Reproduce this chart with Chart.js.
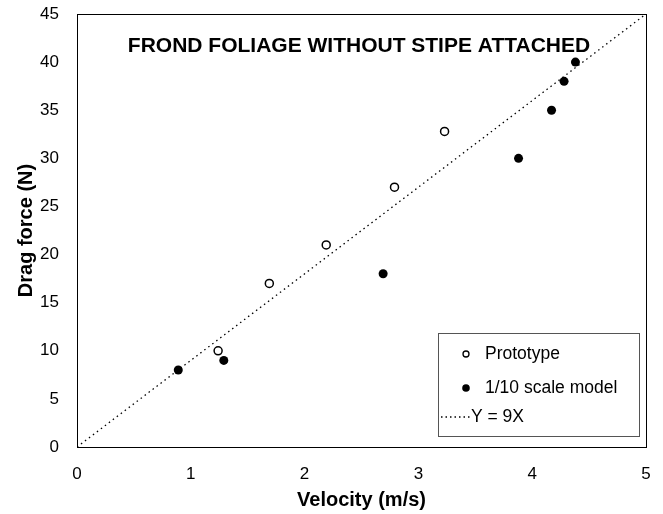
<!DOCTYPE html>
<html><head><meta charset="utf-8">
<script src="https://cdn.jsdelivr.net/npm/chart.js@4/dist/chart.umd.min.js"></script>
<style>html,body{margin:0;padding:0;background:#fff}#wrap{width:663px;height:514px}</style>
</head><body><div id="wrap"><canvas id="c" width="663" height="514"></canvas></div>
<script>
const chartTitle = "FROND FOLIAGE WITHOUT STIPE ATTACHED";
const xTitle = "Velocity (m/s)";
const yTitle = "Drag force (N)";
const prototypeX = [1.24, 1.69, 2.19, 2.79, 3.23];
const prototypeY = [10, 17, 21, 27, 32.8];
const modelX = [0.89, 1.29, 2.69, 3.88, 4.17, 4.28, 4.38];
const modelY = [8, 9, 18, 30, 35, 38, 40];
const lineX = [0, 5];
const lineY = [0, 45];
const seriesLabels = ["Prototype", "1/10 scale model", "Y = 9X"];

const pts = (xs, ys) => xs.map((x, i) => ({x, y: ys[i]}));
const FONT = "'Liberation Sans', Arial, sans-serif";

const insidePlugin = {
  id: 'inside',
  afterDatasetsDraw(chart) {
    const ctx = chart.ctx, a = chart.chartArea;
    ctx.save();
    ctx.strokeStyle = '#000'; ctx.lineWidth = 1;
    ctx.strokeRect(a.left + 0.5, a.top + 0.5, a.right - a.left, a.bottom - a.top);
    ctx.fillStyle = '#000';
    ctx.font = "bold 21px " + FONT;
    ctx.textAlign = 'center'; ctx.textBaseline = 'middle';
    ctx.fillText(chartTitle, 359, 46);
    // legend box
    const L = 438, T = 333, R = 639, B = 436;
    ctx.fillStyle = '#fff';
    ctx.fillRect(L, T, R - L, B - T);
    ctx.strokeStyle = '#555'; ctx.lineWidth = 1;
    ctx.strokeRect(L + 0.5, T + 0.5, R - L, B - T);
    ctx.font = "17.5px " + FONT; ctx.textAlign = 'left'; ctx.fillStyle = '#000';
    const ds = chart.data.datasets;
    ctx.beginPath(); ctx.arc(466, 354, 3, 0, Math.PI * 2);
    ctx.fillStyle = '#fff'; ctx.fill(); ctx.strokeStyle = '#000'; ctx.lineWidth = 1.3; ctx.stroke();
    ctx.fillStyle = '#000';
    ctx.fillText(ds[0].label, 485, 354);
    ctx.beginPath(); ctx.arc(466, 388, 3.8, 0, Math.PI * 2); ctx.fill();
    ctx.fillText(ds[1].label, 485, 388);
    ctx.setLineDash([1.5, 3]); ctx.lineWidth = 1.3;
    ctx.beginPath(); ctx.moveTo(441, 417); ctx.lineTo(471, 417); ctx.stroke();
    ctx.setLineDash([]);
    ctx.fillText(ds[2].label, 471, 417);
    ctx.restore();
  }
};

new Chart(document.getElementById('c'), {
  type: 'scatter',
  data: {
    datasets: [
      {label: seriesLabels[0], data: pts(prototypeX, prototypeY), pointRadius: 4, pointBackgroundColor: '#fff', pointBorderColor: '#000', pointBorderWidth: 1.5, showLine: false, order: 1},
      {label: seriesLabels[1], data: pts(modelX, modelY), pointRadius: 4.5, pointBackgroundColor: '#000', pointBorderColor: '#000', pointBorderWidth: 0, showLine: false, order: 0},
      {label: seriesLabels[2], data: pts(lineX, lineY), showLine: true, pointRadius: 0, borderColor: '#000', borderWidth: 1.3, borderDash: [1.5, 3.5], fill: false, order: 2}
    ]
  },
  options: {
    responsive: false, animation: false,
    layout: {padding: {left: 0, right: 17, top: 14, bottom: 0}},
    plugins: {legend: {display: false}, tooltip: {enabled: false}, title: {display: false}},
    scales: {
      x: {
        type: 'linear', min: 0, max: 5,
        grid: {display: false, drawTicks: true, tickLength: 5, tickColor: '#000'},
        border: {display: true, color: '#000', width: 1},
        ticks: {stepSize: 1, color: '#000', font: {family: FONT, size: 17}, padding: 12},
        title: {display: true, text: xTitle, color: '#000', font: {family: FONT, size: 20, weight: 'bold'}, padding: {top: 0, bottom: 2}},
        afterFit(s) { s.height = 67; s.paddingLeft = 0; s.paddingRight = 0; }
      },
      y: {
        type: 'linear', min: 0, max: 45,
        grid: {display: false, drawTicks: true, tickLength: 5, tickColor: '#000'},
        border: {display: true, color: '#000', width: 1},
        ticks: {stepSize: 5, color: '#000', font: {family: FONT, size: 17}, padding: 13},
        title: {display: true, text: yTitle, color: '#000', font: {family: FONT, size: 20, weight: 'bold'}, padding: {top: 14, bottom: 0}},
        afterFit(s) { s.width = 77; s.paddingTop = 0; s.paddingBottom = 0; }
      }
    }
  },
  plugins: [insidePlugin]
});
</script></body></html>
